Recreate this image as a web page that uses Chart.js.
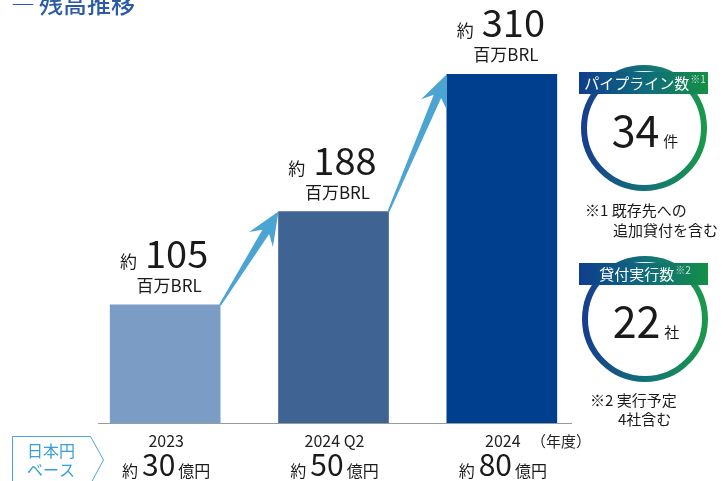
<!DOCTYPE html>
<html>
<head>
<meta charset="utf-8">
<script src="https://cdn.jsdelivr.net/npm/chart.js@4/dist/chart.umd.min.js"></script>
<style>
  html, body { margin: 0; padding: 0; background: #fff; }
  #wrap { width: 723px; height: 481px; position: relative; }
</style>
</head>
<body>
<div id="wrap"><canvas id="chart"></canvas></div>
<script>
const periods = ['2023', '2024 Q2', '2024'];
const balanceBRL = [105, 188, 310];
const balanceJPY = [30, 50, 80];
const pipelineCount = 34;
const loanCount = 22;

const FF = '"Noto Sans CJK JP", "Noto Sans", sans-serif'
const TEXT = '#1a1a1a'


function drawArrow(ctx, x0, y0, x1, y1) {
    const L = Math.hypot(x1 - x0, y1 - y0)
    const ux = (x1 - x0) / L, uy = (y1 - y0) / L
    const nx = -uy, ny = ux
    const pt = (a, b) => [x1 - ux * a + nx * b, y1 - uy * a + ny * b]
    const pts = [pt(0, 0), pt(33, 14), pt(24, 4), pt(L, 1), pt(L, -1), pt(24, -4), pt(33, -14)]
    ctx.beginPath()
    pts.forEach((p, i) => i ? ctx.lineTo(p[0], p[1]) : ctx.moveTo(p[0], p[1]))
    ctx.closePath()
    ctx.fillStyle = '#4ba4d2'
    ctx.fill()
}


function drawBadge(ctx, cx, cy, title, mark, value, unit, notes) {
    const r = 60
    const ring = ctx.createLinearGradient(cx - r, 0, cx + r, 0)
    ring.addColorStop(0, '#173f8e')
    ring.addColorStop(0.5, '#11717a')
    ring.addColorStop(1, '#1a984b')
    ctx.beginPath()
    ctx.arc(cx, cy, r, 0, Math.PI * 2)
    ctx.lineWidth = 6
    ctx.strokeStyle = ring
    ctx.stroke()

    // banner
    const by = cy - 56
    const band = ctx.createLinearGradient(579, 0, 708, 0)
    band.addColorStop(0, '#0f3d8e')
    band.addColorStop(0.5, '#0e6a7c')
    band.addColorStop(1, '#149046')
    ctx.fillStyle = band
    ctx.fillRect(579, by, 129, 22)

    ctx.font = `15px ${FF}`
    const tw = ctx.measureText(title).width
    ctx.font = `10px ${FF}`
    const mw = ctx.measureText(mark).width
    let x = 645 - (tw + mw + 1) / 2
    ctx.fillStyle = '#fff'
    ctx.textAlign = 'left'
    ctx.textBaseline = 'alphabetic'
    ctx.font = `15px ${FF}`
    ctx.fillText(title, x, by + 17)
    ctx.fillStyle = '#d6deea'
    ctx.font = `10px ${FF}`
    ctx.fillText(mark, x + tw + 1, by + 11)

    // value
    ctx.font = `43px ${FF}`
    const vw = ctx.measureText(String(value)).width
    ctx.font = `15px ${FF}`
    const uw = ctx.measureText(unit).width
    x = cx + 1 - (vw + 4 + uw) / 2
    ctx.fillStyle = TEXT
    ctx.font = `43px ${FF}`
    ctx.fillText(String(value), x, cy + 19)
    ctx.font = `15px ${FF}`
    ctx.fillText(unit, x + vw + 4, cy + 19)

    ctx.font = `15px ${FF}`
    notes.forEach((n) => ctx.fillText(n.text, n.x, n.y))
}


const overlay = {
    id: 'overlay',
    afterDatasetsDraw(chart) {
        const ctx = chart.ctx
        const bars = chart.getDatasetMeta(0).data
        const base = chart.scales.y.getPixelForValue(0)
        ctx.save()

        // baseline
        ctx.strokeStyle = '#9a9a9a'
        ctx.lineWidth = 1
        ctx.beginPath()
        ctx.moveTo(98, Math.round(base) + 0.5)
        ctx.lineTo(572, Math.round(base) + 0.5)
        ctx.stroke()

        // arrows between bars
        for (let i = 0; i < bars.length - 1; i++) {
            const a = bars[i], b = bars[i + 1]
            drawArrow(ctx, a.x + a.width / 2, a.y, b.x - b.width / 2, b.y)
        }

        ctx.textBaseline = 'alphabetic'
        ctx.textAlign = 'left'
        bars.forEach((bar, i) => {
            // value label
            const num = String(balanceBRL[i])
            ctx.font = `17px ${FF}`
            const w1 = ctx.measureText('約').width
            ctx.font = `38px ${FF}`
            const w2 = ctx.measureText(num).width
            let x = bar.x - 1 - (w1 + 8 + w2) / 2
            ctx.fillStyle = TEXT
            ctx.font = `17px ${FF}`
            ctx.fillText('約', x, bar.y - 37)
            ctx.font = `38px ${FF}`
            ctx.fillText(num, x + w1 + 8, bar.y - 37)
            ctx.font = `17px ${FF}`
            ctx.textAlign = 'center'
            ctx.fillText('百万BRL', bar.x + 4, bar.y - 13)

            // period label
            ctx.font = `16px ${FF}`
            ctx.fillStyle = '#222'
            ctx.fillText(periods[i], bar.x + 1, base + 24)
            ctx.textAlign = 'left'

            // yen row
            const yen = String(balanceJPY[i])
            ctx.font = `16px ${FF}`
            const a1 = ctx.measureText('約').width
            const a3 = ctx.measureText('億円').width
            ctx.font = `30px ${FF}`
            const a2 = ctx.measureText(yen).width
            x = bar.x + 1 - (a1 + 4 + a2 + 3 + a3) / 2
            ctx.fillStyle = TEXT
            ctx.font = `16px ${FF}`
            ctx.fillText('約', x, base + 54)
            ctx.fillText('億円', x + a1 + 4 + a2 + 3, base + 54)
            ctx.font = `30px ${FF}`
            ctx.fillText(yen, x + a1 + 4, base + 53)
        })

        ctx.font = `15px ${FF}`
        ctx.fillStyle = '#222'
        ctx.fillText('（年度）', 531, base + 24)

        // JPY box
        ctx.beginPath()
        ctx.moveTo(12.5, 436.5)
        ctx.lineTo(90.5, 436.5)
        ctx.lineTo(103.5, 460)
        ctx.lineTo(90.5, 484)
        ctx.moveTo(12.5, 484)
        ctx.lineTo(12.5, 436.5)
        ctx.strokeStyle = '#4aa7dc'
        ctx.stroke()
        ctx.fillStyle = '#3a9fd8'
        ctx.font = `16px ${FF}`
        ctx.textAlign = 'center'
        ctx.fillText('日本円', 51, 457)
        ctx.fillText('ベース', 51, 476)
        ctx.textAlign = 'left'

        // title
        ctx.fillStyle = '#2b5ba6'
        ctx.font = `500 24px ${FF}`
        ctx.fillText('―', 11, 13)
        ctx.fillText('残高推移', 39, 13)

        // side badges
        drawBadge(ctx, 644, 128, 'パイプライン数', '※1', pipelineCount, '件', [
            { text: '※1 既存先への', x: 585, y: 216 },
            { text: '追加貸付を含む', x: 613, y: 236 },
        ])
        drawBadge(ctx, 645, 319, '貸付実行数', '※2', loanCount, '社', [
            { text: '※2 実行予定', x: 590, y: 406 },
            { text: '4社含む', x: 618, y: 425 },
        ])

        ctx.restore()
    }
}


new Chart(document.getElementById('chart'), {
    type: 'bar',
    data: {
        labels: periods,
        datasets: [{
            data: balanceBRL,
            backgroundColor: ['#7b9cc4', '#3f6393', '#003f8e'],
            borderWidth: 0,
            barThickness: 110,
        }],
    },
    options: {
        responsive: true,
        maintainAspectRatio: false,
        animation: false,
        layout: { padding: { left: 81, right: 137, top: 0, bottom: 58 } },
        scales: {
            x: { display: false },
            y: { display: false, min: 0, max: 376 },
        },
        plugins: {
            legend: { display: false },
            tooltip: { enabled: false },
        },
    },
    plugins: [overlay],
});
</script>
</body>
</html>
